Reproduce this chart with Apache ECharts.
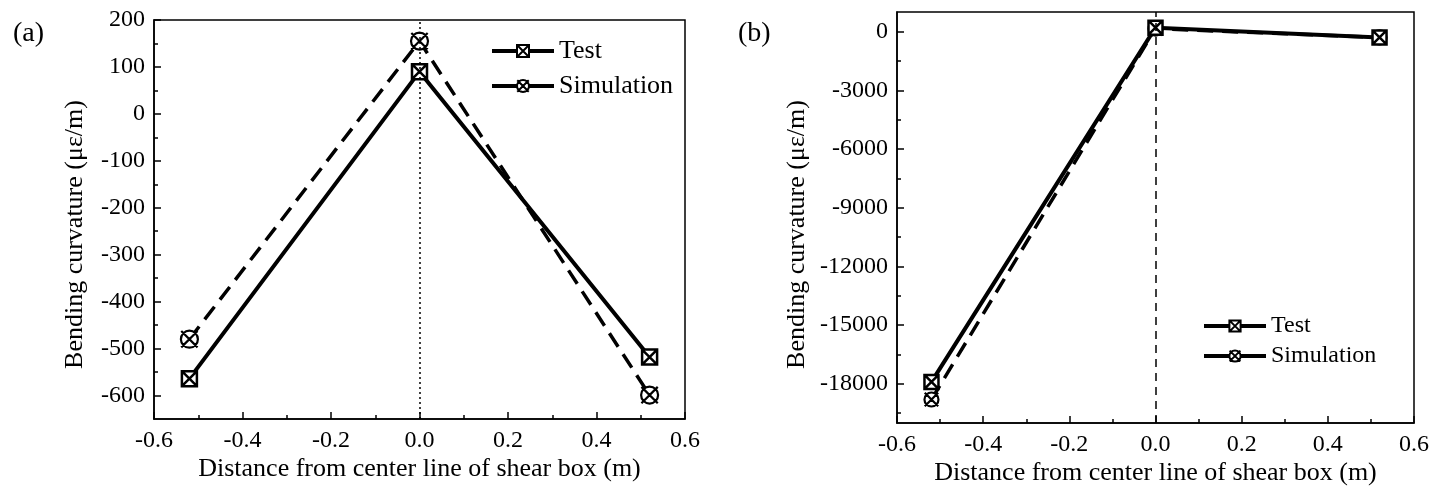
<!DOCTYPE html>
<html>
<head>
<meta charset="utf-8">
<script src="https://cdn.jsdelivr.net/npm/echarts@6/dist/echarts.min.js"></script>
<style>
html,body{margin:0;padding:0;background:#fff;}
#chart{width:1446px;height:491px;}
</style>
</head>
<body>
<div id="chart"></div>
<script>
// ---- data ----
const xPos = [-0.52, 0, 0.52];
const testA = [-564, 90, -518];
const simA = [-480, 155, -599];
const testB = [-17900, 200, -300];
const simB = [-18800, 150, -300];
const refLineX = 0;
const yTicksA = [200, 100, 0, -100, -200, -300, -400, -500, -600];
const yMinorA = [150, 50, -50, -150, -250, -350, -450, -550];
const yTicksB = [0, -3000, -6000, -9000, -12000, -15000, -18000];
const yMinorB = [-1500, -4500, -7500, -10500, -13500, -16500, -19500];
const seriesNames = ['Test', 'Simulation'];
const xTitle = 'Distance from center line of shear box (m)';
const yTitle = 'Bending curvature (\u03bc\u03b5/m)';
const panelLabels = ['(a)', '(b)'];

// ---- helpers ----
const FONT = 'Liberation Serif';
const sqX = 'path://M0,0 L10,0 L10,10 L0,10 Z M0,0 L10,10 M10,0 L0,10';
const cirX = 'path://M0,5 A5,5 0 1,1 10,5 A5,5 0 1,1 0,5 Z M0.2,0.2 L9.8,9.8 M9.8,0.2 L0.2,9.8';
const pts = (vals) => xPos.map((x, i) => [x, vals[i]]);

function xAxisCfg(grid) {
  return {
    type: 'value', gridIndex: grid, min: -0.6, max: 0.6, interval: 0.2,
    name: xTitle, nameLocation: 'middle', nameGap: 37, nameMoveOverlap: false,
    nameTextStyle: {fontFamily: FONT, fontSize: 26, color: '#000'},
    axisLine: {show: true, onZero: false, lineStyle: {color: '#000', width: 1.5}},
    axisTick: {show: true, inside: true, length: 7, lineStyle: {color: '#000', width: 1.5}},
    minorTick: {show: true, splitNumber: 2, length: 4, lineStyle: {color: '#000', width: 1.5}},
    axisLabel: {fontFamily: FONT, fontSize: 24, color: '#000', margin: 10,
      formatter: v => v.toFixed(1)},
    splitLine: {show: false}
  };
}
function yAxisCfg(grid, min, max, ticks, gap, shift) {
  return {
    type: 'value', gridIndex: grid, min: min, max: max,
    name: yTitle, nameLocation: 'middle', nameGap: gap, nameRotate: 90,
    nameTextStyle: {fontFamily: FONT, fontSize: 26, color: '#000', padding: [0, shift, 0, 0]},
    axisLine: {show: true, onZero: false, lineStyle: {color: '#000', width: 1.5}},
    axisTick: {show: true, inside: true, length: 7, customValues: ticks, lineStyle: {color: '#000', width: 1.5}},
    axisLabel: {fontFamily: FONT, fontSize: 24, color: '#000', margin: 9, customValues: ticks,
      formatter: v => String(v)},
    splitLine: {show: false}
  };
}
function yMinorCfg(grid, min, max, ticks) {
  return {
    type: 'value', gridIndex: grid, min: min, max: max, position: 'left', offset: 0,
    axisLine: {show: false, onZero: false},
    axisTick: {show: true, inside: true, length: 4, customValues: ticks, lineStyle: {color: '#000', width: 1.5}},
    axisLabel: {show: false},
    splitLine: {show: false}
  };
}
function refLine(dash) {
  return {
    silent: true, symbol: 'none', label: {show: false},
    lineStyle: {color: '#000', width: 1.5, type: dash},
    data: [{xAxis: refLineX}]
  };
}
function testSeries(vals, xi, yi, size, mark) {
  const s = {
    name: seriesNames[0], type: 'line', xAxisIndex: xi, yAxisIndex: yi,
    data: pts(vals), symbol: sqX, symbolSize: size, z: 4,
    lineStyle: {color: '#000', width: 4, type: 'solid'},
    itemStyle: {color: '#fff', borderColor: '#000', borderWidth: 2.5},
    emphasis: {disabled: true}, animation: false
  };
  if (mark) s.markLine = mark;
  return s;
}
function simSeries(vals, xi, yi, size) {
  return {
    name: seriesNames[1], type: 'line', xAxisIndex: xi, yAxisIndex: yi,
    data: pts(vals), symbol: cirX, symbolSize: size, z: 3,
    lineStyle: {color: '#000', width: 3.5, type: [16, 9]},
    itemStyle: {color: '#fff', borderColor: '#000', borderWidth: 2.2},
    emphasis: {disabled: true}, animation: false
  };
}

const chart = echarts.init(document.getElementById('chart'));
chart.setOption({
  animation: false,
  backgroundColor: '#fff',
  title: [
    {text: panelLabels[0], left: 8, top: 15, textStyle: {fontFamily: FONT, fontSize: 28, fontWeight: 'normal', color: '#000'}},
    {text: panelLabels[1], left: 733, top: 15, textStyle: {fontFamily: FONT, fontSize: 28, fontWeight: 'normal', color: '#000'}}
  ],
  grid: [
    {left: 154, top: 20, width: 531, height: 399, show: true, borderColor: '#000', borderWidth: 1.5, backgroundColor: 'transparent'},
    {left: 897, top: 12, width: 517, height: 411, show: true, borderColor: '#000', borderWidth: 1.5, backgroundColor: 'transparent'}
  ],
  legend: [
    {left: 485, top: 33, orient: 'vertical', itemWidth: 62, itemHeight: 15, itemGap: 9,
     data: seriesNames, lineStyle: {type: 'solid', width: 4}, selectedMode: false,
     textStyle: {fontFamily: FONT, fontSize: 26, color: '#000'}},
    {left: 1197, top: 309, orient: 'vertical', itemWidth: 62, itemHeight: 14, itemGap: 6,
     data: seriesNames, lineStyle: {type: 'solid', width: 4}, selectedMode: false,
     textStyle: {fontFamily: FONT, fontSize: 24, color: '#000'}}
  ],
  xAxis: [xAxisCfg(0), xAxisCfg(1)],
  yAxis: [
    yAxisCfg(0, -650, 200, yTicksA, 66, 30),
    yAxisCfg(1, -20000, 1000, yTicksB, 87, 34),
    yMinorCfg(0, -650, 200, yMinorA),
    yMinorCfg(1, -20000, 1000, yMinorB)
  ],
  series: [
    testSeries(testA, 0, 0, 15, refLine([2, 3])),
    simSeries(simA, 0, 0, 17),
    testSeries(testB, 1, 1, 14, refLine([8, 6])),
    simSeries(simB, 1, 1, 14)
  ]
});
</script>
</body>
</html>
